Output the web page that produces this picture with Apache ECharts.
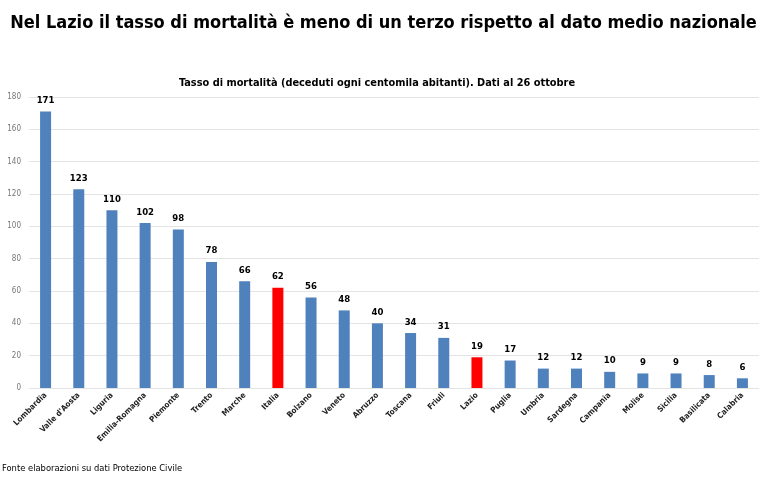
<!DOCTYPE html>
<html><head><meta charset="utf-8">
<script src="https://cdn.jsdelivr.net/npm/echarts@6/dist/echarts.min.js"></script>
<style>html,body{margin:0;padding:0;background:#fff}#c{width:767px;height:483px}</style>
</head><body><div id="c"></div>
<script>
const categories = ["Lombardia","Valle d'Aosta","Liguria","Emilia-Romagna","Piemonte","Trento","Marche","Italia","Bolzano","Veneto","Abruzzo","Toscana","Friuli","Lazio","Puglia","Umbria","Sardegna","Campania","Molise","Sicilia","Basilicata","Calabria"];
const values = [171,123,110,102,98,78,66,62,56,48,40,34,31,19,17,12,12,10,9,9,8,6];
const highlighted = ["Italia","Lazio"];
const yTicks = [0,20,40,60,80,100,120,140,160,180];
const F = 'DejaVu Sans Condensed';
const chart = echarts.init(document.getElementById('c'));
chart.setOption({
  animation:false,
  title:[
    {text:'Nel Lazio il tasso di mortalità è meno di un terzo rispetto al dato medio nazionale',left:'center',top:9,
     textStyle:{fontFamily:F,fontWeight:'bold',fontSize:18,color:'#000'}},
    {text:'Tasso di mortalità (deceduti ogni centomila abitanti). Dati al 26 ottobre',left:372,textAlign:'center',top:73,
     textStyle:{fontFamily:F,fontWeight:'bold',fontSize:10.9,color:'#000'}},
    {text:'Fonte elaborazioni su dati Protezione Civile',left:-3,top:459,
     textStyle:{fontFamily:F,fontWeight:'normal',fontSize:9.3,color:'#000'}}
  ],
  grid:{left:29,right:8,top:97,bottom:95},
  xAxis:{type:'category',data:categories,
    axisLine:{show:false},axisTick:{show:false},
    axisLabel:{rotate:45,interval:0,fontSize:8,fontWeight:'bold',color:'#222',fontFamily:F,margin:6}},
  yAxis:{type:'value',min:yTicks[0],max:yTicks[yTicks.length-1],interval:20,
    axisLabel:{fontSize:8,color:'#777',margin:8,fontFamily:F},
    splitLine:{lineStyle:{color:'#e4e4e4'}},axisLine:{show:false},axisTick:{show:false}},
  series:[{type:'bar',barWidth:11,
    data:values.map((v,i)=>({value:v,itemStyle:{color:highlighted.includes(categories[i])?'#FF0000':'#4F81BD'}})),
    label:{show:true,position:'top',distance:6,fontSize:9.5,fontWeight:'bold',color:'#000',fontFamily:F}}]
});
</script></body></html>
